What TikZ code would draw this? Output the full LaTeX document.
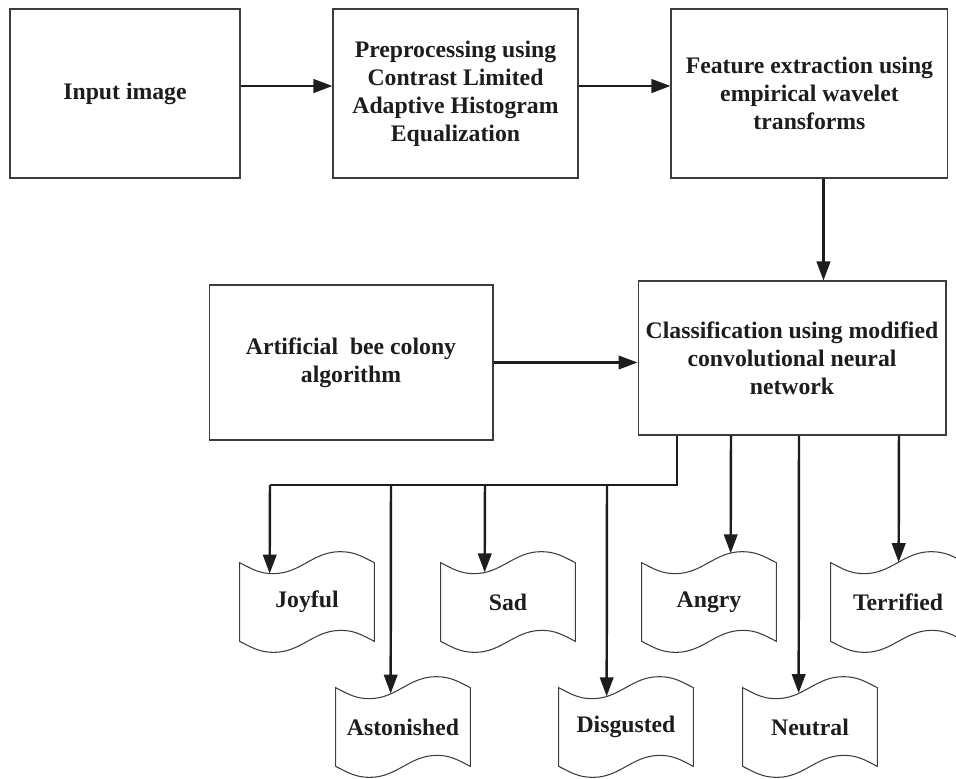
\documentclass[tikz,border=0pt]{standalone}
\usepackage{fontspec}
\setmainfont{Liberation Serif}
\usepackage{xcolor}
\usepackage{tikz}
\usetikzlibrary{positioning,arrows.meta,calc}
\definecolor{boxgray}{RGB}{60,60,60}
\definecolor{inkblack}{RGB}{30,28,28}
\tikzset{
  process-box/.style={draw=boxgray, line width=0.6pt, font=\fontsize{13.5}{16}\selectfont\bfseries,
    align=center, inner sep=2pt, text=inkblack},
  tape-text/.style={font=\fontsize{13.5}{16}\selectfont\bfseries, text=inkblack, inner sep=0pt,
    minimum width=2.68cm, minimum height=1.56cm},
  tape-line/.style={draw=boxgray, line width=0.6pt},
  flow-line/.style={draw=inkblack, line width=1.4pt},
  flow-arrow/.style={flow-line, -{Triangle[length=3.8mm,width=2.7mm]}}
}
% wavy outline round an emotion node
\newcommand{\emotiontape}[1]{%
  \draw[tape-line] (#1.north west) to[out=-27,in=180] ++(33.5,11) to[out=0,in=180] ++(67,-22)
    to[out=0,in=153] (#1.north east) -- (#1.south east) to[out=153,in=0] ++(-33.5,-11)
    to[out=180,in=0] ++(-67,22) to[out=180,in=-27] (#1.south west) -- cycle;}

\begin{document}
\begin{tikzpicture}[x=0.02cm, y=-0.02cm, node distance=1.84cm]
\useasboundingbox (0,0) rectangle (956,778);
\clip (0,0) rectangle (956,778);

% Top row: image to features
\node[process-box, minimum width=4.6cm, minimum height=3.38cm] (input) at (125,93.5) {Input image};
\node[process-box, right=of input, minimum width=4.9cm, minimum height=3.38cm] (preproc)
  {Preprocessing using\\Contrast Limited\\Adaptive Histogram\\Equalization};
\node[process-box, right=of preproc, minimum width=5.54cm, minimum height=3.38cm] (feature)
  {Feature extraction using\\empirical wavelet\\transforms};

% Middle row: optimiser and classifier
\node[process-box, minimum width=6.16cm, minimum height=3.08cm] (class) at (792,358)
  {Classification using modified\\convolutional neural\\network};
\node[process-box, minimum width=5.68cm, minimum height=3.1cm] (abc) at (351,362.5)
  {Artificial\ \ bee colony\\algorithm};

% Emotion classes
\node[tape-text] (joy) at (307,602) {Joyful};
\node[tape-text] (sad) at (508,602) {Sad};
\node[tape-text] (ang) at (709,602) {Angry};
\node[tape-text] (ter) at (898,602) {Terrified};
\node[tape-text] (ast) at (403,727) {Astonished};
\node[tape-text] (dis) at (626,727) {Disgusted};
\node[tape-text] (neu) at (810,727) {Neutral};
\foreach \e in {joy,sad,ang,ter,ast,dis,neu} \emotiontape{\e};

% Connectors
\draw[flow-arrow] ([yshift=0.15cm]input.east) -- ([yshift=0.15cm]preproc.west);
\draw[flow-arrow] ([yshift=0.15cm]preproc.east) -- ([yshift=0.15cm]feature.west);
\coordinate (feat-out) at ([xshift=0.28cm]feature.south);
\draw[flow-arrow] (feat-out) -- (feat-out |- class.north);
\draw[flow-arrow] (abc.east) -- (abc.east -| class.west);

\coordinate (bus-l) at (270,485);
\coordinate (tap-ast) at (391,485);
\coordinate (tap-sad) at (485,485);
\coordinate (tap-dis) at (607,485);
\draw[flow-line] ([xshift=-2.3cm]class.south) |- (bus-l);
\draw[flow-arrow] (bus-l) -- ([shift={(30,10.9)}]joy.north west);
\foreach \src/\dst/\dx/\dy in {tap-ast/ast/55/5.9, tap-sad/sad/44/9.7, tap-dis/dis/48/8.6}
  \draw[flow-arrow] (\src) -- ([shift={(\dx,\dy)}]\dst.north west);
\foreach \sx/\dst/\dx/\dy in {-1.22cm/ang/89/-9.4, 0.14cm/neu/56/5.4, 2.14cm/ter/68/-0.5}
  \draw[flow-arrow] ([xshift=\sx]class.south) -- ([shift={(\dx,\dy)}]\dst.north west);
\end{tikzpicture}
\end{document}
